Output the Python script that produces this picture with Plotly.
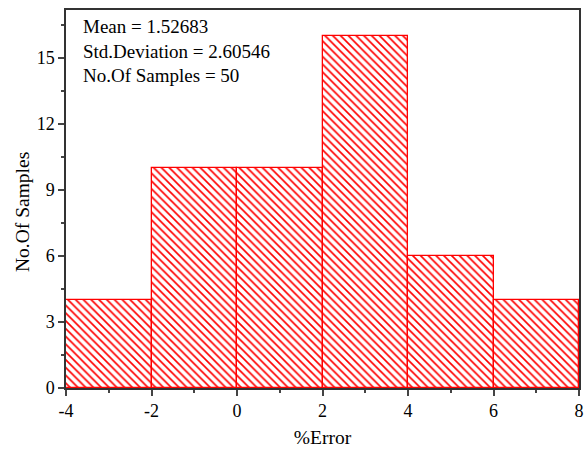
import plotly.graph_objects as go

bin_edges = [-4, -2, 0, 2, 4, 6, 8]
counts = [4, 10, 10, 16, 6, 4]
x_ticks = [-4, -2, 0, 2, 4, 6, 8]
x_tick_labels = ["-4", "-2", "0", "2", "4", "6", "8"]
y_ticks = [0, 3, 6, 9, 12, 15]
stats_lines = ["Mean = 1.52683", "Std.Deviation = 2.60546", "No.Of Samples = 50"]

centers = [(bin_edges[i] + bin_edges[i + 1]) / 2 for i in range(len(counts))]
widths = [bin_edges[i + 1] - bin_edges[i] for i in range(len(counts))]

FONT = "Liberation Serif"

fig = go.Figure(go.Bar(
    x=centers, y=counts, width=widths,
    marker=dict(
        color="white",
        line=dict(color="red", width=1.3),
        pattern=dict(shape="\\", fgcolor="red", bgcolor="white", fgopacity=1,
                     size=5.5, solidity=0.3),
    ),
    showlegend=False,
))

fig.update_layout(
    width=586, height=449,
    margin=dict(l=66, r=7, t=10, b=61),
    plot_bgcolor="white", paper_bgcolor="white",
    font=dict(family=FONT, size=18, color="black"),
    bargap=0,
)
fig.update_xaxes(
    range=[-4, 8], tickvals=x_ticks, ticktext=x_tick_labels, ticks="outside", ticklen=6, tickwidth=1.5,
    showline=True, linecolor="#333", linewidth=1.5, mirror=True, showgrid=False, zeroline=False,
    minor=dict(ticks="outside", ticklen=3, tickwidth=1.5, dtick=1, tick0=-4),
    title=dict(text="%Error", font=dict(size=19.5), standoff=10), automargin=False,
)
fig.update_yaxes(
    range=[0, 17.18], tickvals=y_ticks, ticks="outside", ticklen=6, tickwidth=1.5,
    showline=True, linecolor="#333", linewidth=1.5, mirror=True, showgrid=False, zeroline=False,
    minor=dict(ticks="outside", ticklen=3, tickwidth=1.5, dtick=1.5, tick0=0),
    automargin=False,
)
fig.add_annotation(
    xref="paper", yref="paper", x=-0.0858, y=0.4656, xanchor="center", yanchor="middle",
    text="No.Of Samples", textangle=-90, showarrow=False,
    font=dict(family=FONT, size=19.5),
)
fig.add_annotation(
    xref="paper", yref="paper", x=0.03, y=0.99, xanchor="left", yanchor="top",
    text="<br>".join(stats_lines), align="left", showarrow=False,
    font=dict(family=FONT, size=19),
)
fig.write_html("out.html")
